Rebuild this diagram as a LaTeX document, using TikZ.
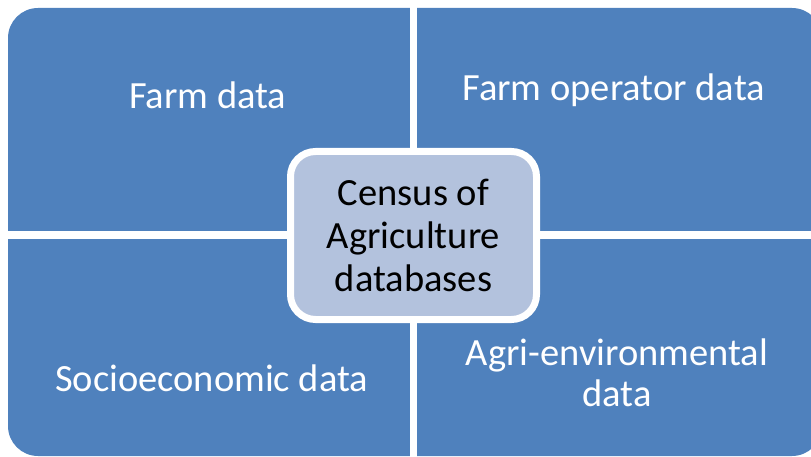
\documentclass[tikz,border=0pt]{standalone}
\usepackage{fontspec}
\setmainfont{Carlito}
\definecolor{quadblue}{HTML}{4F81BD}
\definecolor{coreblue}{HTML}{B3C2DD}
\tikzset{
  quad/.style={text=white, align=center, font=\fontsize{38.5}{41}\selectfont},
  core/.style={rectangle, rounded corners=25pt, fill=coreblue, draw=white, line width=7pt,
    minimum width=246pt, minimum height=168pt, align=center, font=\fontsize{38.5}{43}\selectfont},
}
\begin{document}
\begin{tikzpicture}[x=1pt, y=-1pt]
\useasboundingbox (0,0) rectangle (811,457);
\clip (0,0) rectangle (811,457);
% matrix background and the white gaps
\fill[quadblue, rounded corners=30pt] (8,8) rectangle (822,456);
\fill[white] (410,0) rectangle (417,457);
\fill[white] (0,231) rectangle (811,239);
\foreach[count=\i] \x\y\t in {
	212/95/Farm data
	,618/90/Farm operator data
	,216/378/Socioeconomic data
	,617/373/Agri-environmental\\data
}{
	\node[quad](q\i) at(\x,\y){\t};
}
\node[core](core) at(413.5,235.5){Census of\\Agriculture\\databases};
\end{tikzpicture}
\end{document}
